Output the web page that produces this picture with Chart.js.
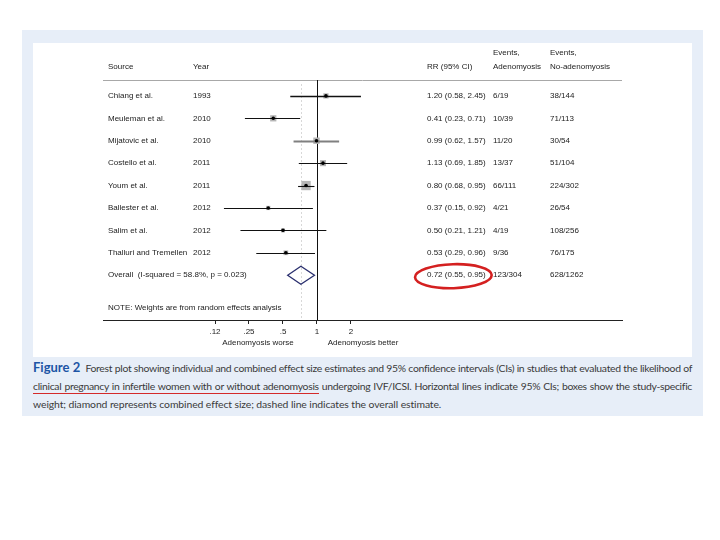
<!DOCTYPE html>
<html>
<head>
<meta charset="utf-8">
<script src="https://cdn.jsdelivr.net/npm/chart.js@4"></script>
<style>
body{margin:0;background:#fff;width:720px;height:540px;position:relative;overflow:hidden}
#panel{position:absolute;left:22px;top:30px;width:681px;height:386px;background:#e7eef8}
#inner{position:absolute;left:33px;top:43px;width:659px;height:314px;background:#fff}
#caption{position:absolute;left:33px;top:358px;width:659px;font-family:Lato,'Open Sans',sans-serif;font-size:10.4px;letter-spacing:-0.3px;word-spacing:-0.6px;line-height:18px;color:#3a3a3a}
#caption .ln{text-align:justify;text-align-last:justify;white-space:nowrap}
#caption .last{text-align:left;text-align-last:left;letter-spacing:-0.1px;word-spacing:0}
#caption b{color:#1d55a5;font-size:13px;font-weight:700;letter-spacing:0}
#caption .mark{border-bottom:1.5px solid #d42a2a;padding-bottom:1px}
</style>
</head>
<body>
<div id="panel"></div>
<div id="inner"><canvas id="myChart"></canvas></div>
<div id="caption">
  <div class="ln"><b>Figure 2</b>&nbsp; Forest plot showing individual and combined effect size estimates and 95% confidence intervals (CIs) in studies that evaluated the likelihood of</div>
  <div class="ln"><span class="mark">clinical pregnancy in infertile women with or without adenomyosis</span> undergoing IVF/ICSI. Horizontal lines indicate 95% CIs; boxes show the study-specific</div>
  <div class="ln last">weight; diamond represents combined effect size; dashed line indicates the overall estimate.</div>
</div>
<script>
// 研究資料
const sources = ['Chiang et al.', 'Meuleman et al.', 'Mijatovic et al.', 'Costello et al.', 'Youm et al.', 'Ballester et al.', 'Salim et al.', 'Thalluri and Tremellen'];
const years = ['1993', '2010', '2010', '2011', '2011', '2012', '2012', '2012'];
const rr = [1.20, 0.41, 0.99, 1.13, 0.80, 0.37, 0.50, 0.53];
const ciLow = [0.58, 0.23, 0.62, 0.69, 0.68, 0.15, 0.21, 0.29];
const ciHigh = [2.45, 0.71, 1.57, 1.85, 0.95, 0.92, 1.21, 0.96];
const weights = [9.6, 13.5, 14.2, 12.8, 30.1, 6.2, 5.8, 7.8]; // 估計的權重(%)
const eventsAden = ['6/19', '10/39', '11/20', '13/37', '66/111', '4/21', '4/19', '9/36'];
const eventsNoAden = ['38/144', '71/113', '30/54', '51/104', '224/302', '26/54', '108/256', '76/175'];

// 合併結果
const overallLabel = 'Overall  (I-squared = 58.8%, p = 0.023)';
const overallRR = 0.72, overallLow = 0.55, overallHigh = 0.95;
const overallAden = '123/304', overallNoAden = '628/1262';
const noteText = 'NOTE: Weights are from random effects analysis';

// X軸
const tickValues = [0.125, 0.25, 0.5, 1, 2];
const tickLabels = ['.12', '.25', '.5', '1', '2'];

const FONT = "8px 'Liberation Sans', Arial, sans-serif";
const TXT = '#222';

function fmtCI(v, l, h) {
    return v.toFixed(2) + ' (' + l.toFixed(2) + ', ' + h.toFixed(2) + ')';
}

const forestPlugin = {
    id: 'forest',
    beforeDatasetsDraw(chart) {
        const { ctx, chartArea: a, scales: { x } } = chart;
        ctx.save();
        // 標題下方線
        ctx.strokeStyle = '#a8a8a8';
        ctx.lineWidth = 1;
        ctx.beginPath(); ctx.moveTo(a.left, a.top + 0.5); ctx.lineTo(a.right, a.top + 0.5); ctx.stroke();
        // 虛線 = 合併估計
        const xo = Math.round(x.getPixelForValue(overallRR)) + 0.5;
        ctx.strokeStyle = '#d8d8d8';
        ctx.setLineDash([2, 2]);
        ctx.beginPath(); ctx.moveTo(xo, a.top + 4); ctx.lineTo(xo, a.bottom); ctx.stroke();
        ctx.setLineDash([]);
        // RR = 1
        const x1 = Math.round(x.getPixelForValue(1)) + 0.5;
        ctx.strokeStyle = '#111';
        ctx.beginPath(); ctx.moveTo(x1, a.top); ctx.lineTo(x1, a.bottom); ctx.stroke();
        ctx.restore();
    },
    afterDatasetDraw(chart, args) {
        if (args.index !== 0) return;
        const { ctx, scales: { x, y } } = chart;
        ctx.save();
        for (let i = 0; i < rr.length; i++) {
            const yy = Math.round(y.getPixelForValue(i)) + 0.5;
            ctx.strokeStyle = i === 2 ? '#808080' : '#111';
            ctx.lineWidth = i === 0 ? 1.6 : (i === 2 ? 2 : 1.1);
            ctx.beginPath();
            ctx.moveTo(x.getPixelForValue(ciLow[i]), yy);
            ctx.lineTo(x.getPixelForValue(ciHigh[i]), yy);
            ctx.stroke();
        }
        ctx.restore();
    },
    afterDatasetsDraw(chart) {
        const { ctx, scales: { x, y } } = chart;
        const yo = y.getPixelForValue(rr.length);
        ctx.save();
        ctx.strokeStyle = '#2a2f6e';
        ctx.lineWidth = 1.3;
        ctx.beginPath();
        ctx.moveTo(x.getPixelForValue(overallLow), yo);
        ctx.lineTo(x.getPixelForValue(overallRR), yo - 9);
        ctx.lineTo(x.getPixelForValue(overallHigh), yo);
        ctx.lineTo(x.getPixelForValue(overallRR), yo + 9);
        ctx.closePath();
        ctx.stroke();
        ctx.restore();
    },
    afterDraw(chart) {
        const { ctx, chartArea: a, scales: { x, y } } = chart;
        const cSrc = a.left + 5, cYear = a.left + 90, cRR = a.left + 324, cA = a.left + 390, cN = a.left + 447;
        ctx.save();
        ctx.font = FONT;
        ctx.fillStyle = TXT;
        ctx.textBaseline = 'middle';
        ctx.textAlign = 'left';
        // 表頭
        const h2 = a.top - 13, h1 = a.top - 27;
        ctx.fillText('Source', cSrc, h2);
        ctx.fillText('Year', cYear, h2);
        ctx.fillText('RR (95% CI)', cRR, h2);
        ctx.fillText('Events,', cA, h1);
        ctx.fillText('Adenomyosis', cA, h2);
        ctx.fillText('Events,', cN, h1);
        ctx.fillText('No-adenomyosis', cN, h2);
        // 各列
        for (let i = 0; i < rr.length; i++) {
            const yy = y.getPixelForValue(i);
            ctx.fillText(sources[i], cSrc, yy);
            ctx.fillText(years[i], cYear, yy);
            ctx.fillText(fmtCI(rr[i], ciLow[i], ciHigh[i]), cRR, yy);
            ctx.fillText(eventsAden[i], cA, yy);
            ctx.fillText(eventsNoAden[i], cN, yy);
        }
        const yo = y.getPixelForValue(rr.length);
        const oTxt = fmtCI(overallRR, overallLow, overallHigh);
        ctx.fillText(overallLabel, cSrc, yo);
        ctx.fillText(oTxt, cRR, yo);
        ctx.fillText(overallAden, cA, yo);
        ctx.fillText(overallNoAden, cN, yo);
        ctx.fillText(noteText, cSrc, y.getPixelForValue(rr.length + 1.46));
        // 軸標題
        const x1 = x.getPixelForValue(1);
        ctx.textAlign = 'center';
        ctx.fillText('Adenomyosis worse', x1 - 59, a.bottom + 23);
        ctx.fillText('Adenomyosis better', x1 + 46, a.bottom + 23);
        // 紅色圈
        const w = ctx.measureText(oTxt).width;
        ctx.strokeStyle = '#d42020';
        ctx.lineWidth = 2.6;
        ctx.beginPath();
        ctx.ellipse(cRR + w / 2 - 3, yo + 1, w / 2 + 9, 12, -0.03, 0, Math.PI * 2);
        ctx.stroke();
        ctx.restore();
    }
};

const ctx = document.getElementById('myChart');
new Chart(ctx, {
    type: 'scatter',
    data: {
        datasets: [{
            label: 'weight',
            data: rr.map((v, i) => ({ x: v, y: i })),
            pointStyle: 'rect',
            pointRadius: weights.map(wt => Math.sqrt(wt) * 1.2),
            backgroundColor: '#b5b5b5',
            borderWidth: 0,
            order: 2
        }, {
            label: 'RR',
            data: rr.map((v, i) => ({ x: v, y: i })),
            pointStyle: 'circle',
            pointRadius: 1.8,
            backgroundColor: '#000',
            borderWidth: 0,
            order: 1
        }]
    },
    options: {
        responsive: true,
        maintainAspectRatio: false,
        animation: false,
        events: [],
        layout: { padding: { left: 70, right: 70, top: 37, bottom: 0 } },
        plugins: { legend: { display: false }, tooltip: { enabled: false } },
        scales: {
            x: {
                type: 'logarithmic',
                min: 0.01274,
                max: 502,
                afterBuildTicks: s => { s.ticks = tickValues.map(v => ({ value: v })); },
                afterFit: s => { s.height = 37; },
                ticks: {
                    callback: (v, i) => tickLabels[i],
                    font: { size: 8, family: "'Liberation Sans', Arial, sans-serif" },
                    color: TXT,
                    padding: 3,
                    maxRotation: 0,
                    autoSkip: false
                },
                grid: { drawOnChartArea: false, drawTicks: true, tickLength: 4, color: '#222' },
                border: { color: '#222', width: 1 }
            },
            y: { type: 'linear', min: -0.71, max: 10, reverse: true, display: false }
        }
    },
    plugins: [forestPlugin]
});
</script>
</body>
</html>
